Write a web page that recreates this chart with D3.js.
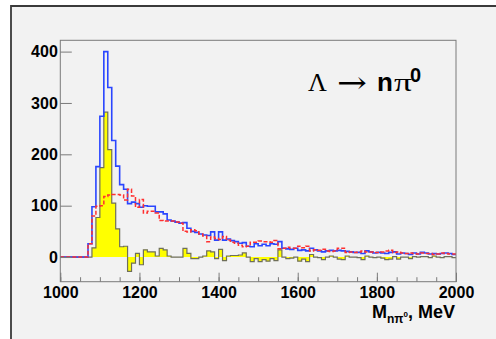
<!DOCTYPE html>
<html>
<head>
<meta charset="utf-8">
<script src="https://cdn.jsdelivr.net/npm/d3@7"></script>
<style>
  body { margin: 0; background: #fff; }
  svg { display: block; }
  text { font-family: "Liberation Sans", Arial, sans-serif; }
</style>
</head>
<body>
<div id="chart"></div>
<script>
// 10 MeV bins, 1000..2000 MeV
const binEdges = d3.range(1000, 2000, 10);

// total (blue)
const total = [
  0, 0, 0, 0, 0, 0, 0, 26, 98, 176,
  274, 400, 330, 227, 177, 141, 132, 104, 107, 104,
  97, 100, 99, 99, 88, 88, 84, 72, 70, 68,
  66, 67, 56, 50, 48, 45, 43, 42, 49, 33,
  49, 33, 35, 32, 30, 27, 28, 21, 20, 26,
  22, 25, 22, 26, 25, 30, 17, 16, 15, 17,
  13, 14, 12, 17, 14, 12, 10, 12, 13, 12,
  13, 12, 11, 10, 9, 9, 7, 12, 10, 8,
  9, 8, 7, 9, 10, 6, 8, 7, 5, 8,
  6, 9, 8, 6, 7, 6, 7, 8, 7, 5
];

// background (red dashed)
const background = [
  0, 0, 0, 0, 0, 0, 0, 26, 80, 99,
  100, 118, 121, 122, 122, 121, 111, 132, 119, 97,
  112, 86, 89, 89, 86, 71, 70, 70, 70, 68,
  66, 50, 49, 53, 51, 45, 41, 30, 39, 36,
  34, 40, 33, 29, 27, 23, 20, 21, 29, 29,
  31, 30, 30, 29, 32, 16, 17, 19, 17, 17,
  21, 18, 21, 12, 14, 13, 15, 12, 11, 12,
  17, 17, 9, 10, 9, 10, 12, 10, 10, 9,
  9, 10, 12, 13, 9, 10, 8, 7, 8, 7,
  6, 8, 7, 7, 5, 6, 8, 7, 6, 6
];

// signal (yellow), total minus background
const signal = [
  0, 0, 0, 0, 0, 0, 0, 0, 18, 77,
  174, 282, 209, 105, 55, 20, 21, -28, -12, 7,
  -15, 14, 10, 10, 2, 17, 14, 2, 0, 0,
  0, 17, 7, -3, -3, 0, 2, 12, 10, -3,
  15, -7, 2, 3, 3, 4, 8, 0, -9, -3,
  -9, -5, -8, -3, -7, 14, 0, -3, -2, 0,
  -8, -4, -9, 5, 0, -1, -5, 0, 2, 0,
  -4, -5, 2, 0, 0, -1, -5, 2, 0, -1,
  0, -2, -5, -4, 1, -4, 0, 0, -3, 1,
  0, 1, 1, -1, 2, 0, -1, 1, 1, -1
];

const xMajor = [1000, 1200, 1400, 1600, 1800, 2000];
const yMajor = [0, 100, 200, 300, 400];

const W = 496, H = 339;
const svg = d3.select("#chart").append("svg")
  .attr("width", W)
  .attr("height", H);

// canvas background + frame
svg.append("rect").attr("x", 11).attr("y", 6).attr("width", W - 11).attr("height", H - 6)
  .attr("fill", "#f2f2f2");
svg.append("path")
  .attr("d", `M11,${H} L11,6 L${W},6`)
  .attr("fill", "none")
  .attr("stroke", "#3a3a3a")
  .attr("stroke-width", 1.8);

const x = d3.scaleLinear().domain([1000, 2000]).range([60.3, 456]);
const y = d3.scaleLinear().domain([-48, 422]).range([281.7, 40.3]);

// step points: left edge of each bin plus closing point at 2000
function steps(vals) {
  const pts = binEdges.map((e, i) => [e, vals[i]]);
  pts.push([2000, vals[vals.length - 1]]);
  return pts;
}

const line = d3.line()
  .x(d => x(d[0]))
  .y(d => y(d[1]))
  .curve(d3.curveStepAfter);

const area = d3.area()
  .x(d => x(d[0]))
  .y0(y(0))
  .y1(d => y(d[1]))
  .curve(d3.curveStepAfter);

const plot = svg.append("g");

plot.append("path")
  .datum(steps(signal))
  .attr("d", area)
  .attr("fill", "#ffff00");

plot.append("path")
  .datum(steps(signal))
  .attr("d", line)
  .attr("fill", "none")
  .attr("stroke", "#6f6f5a")
  .attr("stroke-width", 1.2);

plot.append("path")
  .datum(steps(total))
  .attr("d", line)
  .attr("fill", "none")
  .attr("stroke", "#2a46ff")
  .attr("stroke-width", 1.6);

plot.append("path")
  .datum(steps(background))
  .attr("d", line)
  .attr("fill", "none")
  .attr("stroke", "#ff3030")
  .attr("stroke-width", 1.5)
  .attr("stroke-dasharray", "4,2");

// frame
svg.append("rect")
  .attr("x", x(1000)).attr("y", y(422))
  .attr("width", x(2000) - x(1000))
  .attr("height", y(-48) - y(422))
  .attr("fill", "none")
  .attr("stroke", "#7a7a7a")
  .attr("stroke-width", 1);

// x axis: minor ticks every 50, major every 200 (ticks point inward)
const xMinor = svg.append("g")
  .attr("transform", `translate(0,${y(-48)})`)
  .call(d3.axisBottom(x).tickValues(d3.range(1000, 2001, 50)).tickSize(-4.5).tickFormat(""));
const xAxis = svg.append("g")
  .attr("transform", `translate(0,${y(-48)})`)
  .call(d3.axisBottom(x).tickValues(xMajor).tickSize(-9).tickPadding(5).tickFormat(d3.format("d")));

const yAxis = svg.append("g")
  .attr("transform", `translate(${x(1000)},0)`)
  .call(d3.axisLeft(y).tickValues(yMajor).tickSize(-11.5).tickPadding(2.5));

[xMinor, xAxis, yAxis].forEach(g => {
  g.select(".domain").remove();
  g.selectAll(".tick line").attr("stroke", "#7a7a7a");
});
[xAxis, yAxis].forEach(g => {
  g.selectAll(".tick text")
    .attr("fill", "#000")
    .style("font-size", "16px")
    .style("font-weight", "bold")
    .style("font-family", "'Liberation Sans', Arial, sans-serif");
});

// axis title
const xt = svg.append("text")
  .attr("x", 455)
  .attr("y", 318)
  .attr("text-anchor", "end")
  .style("font-weight", "bold")
  .style("font-size", "18px");
xt.append("tspan").text("M");
xt.append("tspan").attr("dy", 5).style("font-size", "12px").text("nπ");
xt.append("tspan").attr("dy", -6).style("font-size", "8px").text("0");
xt.append("tspan").attr("dy", 1).style("font-size", "18px").text(", MeV");

// reaction label
const lbl = svg.append("g");
lbl.append("text").attr("x", 308).attr("y", 91)
  .style("font-family", "'Liberation Serif', 'Times New Roman', serif")
  .style("font-size", "26px").text("Λ");
lbl.append("text").attr("x", 337).attr("y", 93)
  .attr("textLength", 30).attr("lengthAdjust", "spacingAndGlyphs")
  .style("font-family", "'DejaVu Serif', serif")
  .style("font-size", "30px").text("→");
lbl.append("text").attr("x", 377).attr("y", 91)
  .style("font-weight", "bold").style("font-size", "26px").text("n");
lbl.append("text").attr("x", 394).attr("y", 91)
  .attr("textLength", 18).attr("lengthAdjust", "spacingAndGlyphs")
  .style("font-family", "'Liberation Serif', 'Times New Roman', serif")
  .style("font-size", "26px").text("π");
lbl.append("text").attr("x", 410).attr("y", 82)
  .style("font-weight", "bold").style("font-size", "20px").text("0");
</script>
</body>
</html>
